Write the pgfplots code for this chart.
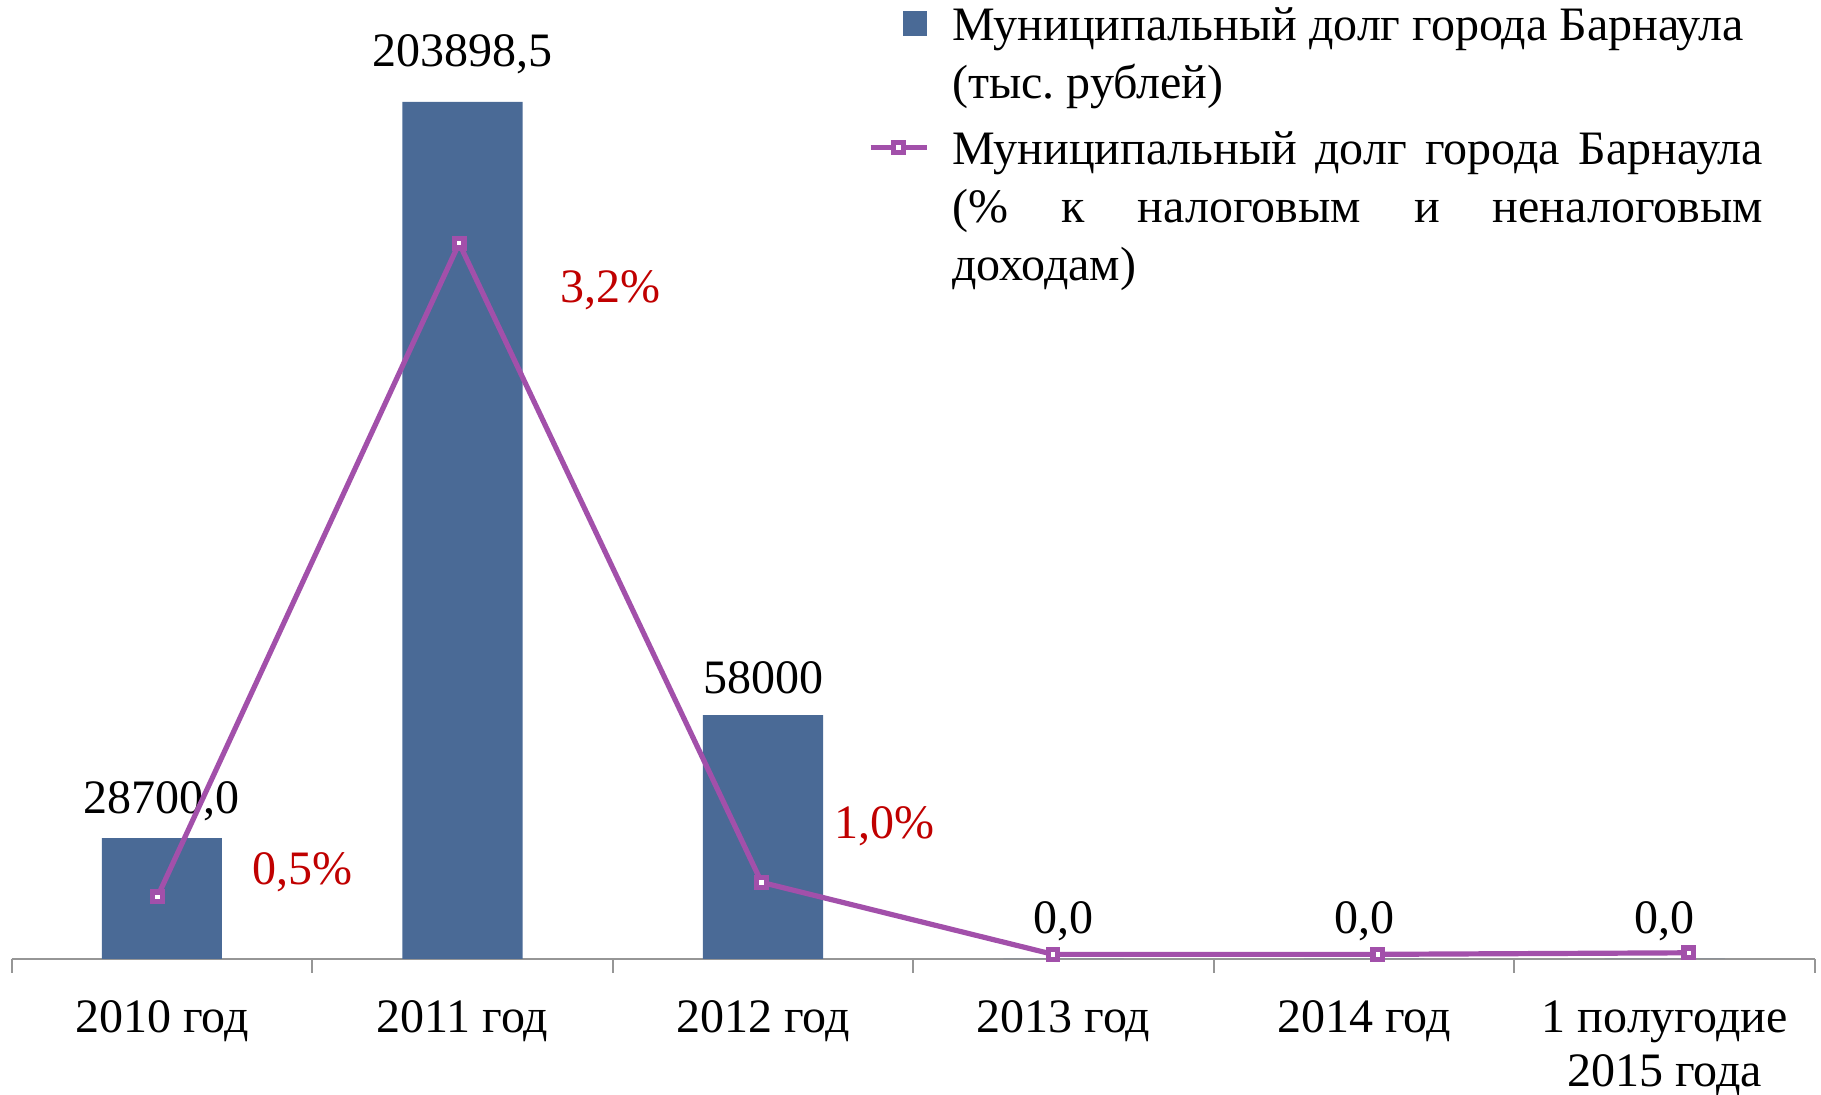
\documentclass[border=0pt]{standalone}
\usepackage{fontspec}
\setmainfont{Liberation Serif}
\usepackage{pgfplots}
\usepackage{pgfplotstable}
\pgfplotsset{compat=1.18}
\definecolor{barblue}{RGB}{74,106,150}
\definecolor{linepurple}{RGB}{162,80,170}
\definecolor{pctred}{RGB}{192,0,0}
\definecolor{axgray}{RGB}{150,150,150}

\pgfplotstableread{
x y label dy
0 28700 {28700,0} 6.25
1 203898.5 {203898,5} 8.75
2 58000 {58000} 5.5
3 0 {0,0} 6.4
4 0 {0,0} 6.4
5 0 {0,0} 6.4
}\bardata

\pgfplotstableread{
x y
-0.015 0.277
0.989 3.2
1.995 0.342
2.965 0.020
4.045 0.020
5.080 0.027
}\linedata

\pgfplotstableread{
x y label dx dy
-0.015 0.277 {0,5\%} 36.2 3.2
0.989 3.2 {3,2\%} 37.9 -14.9
1.995 0.342 {1,0\%} 30.8 10.95
}\pctdata

\newcommand{\W}{202.75pt}
\frenchspacing

\begin{document}
\begin{tikzpicture}
\begin{axis}[
  name=ax,
  scale only axis,
  width=450.85pt, height=239.7pt,
  xmin=-0.5, xmax=5.5,
  ymin=0, ymax=228170,
  clip=false,
  axis x line*=bottom,
  axis y line=none,
  x axis line style={-, draw=axgray, line width=0.6pt},
  xtick={0,1,2,3,4,5},
  xticklabels={2010 год,2011 год,2012 год,2013 год,2014 год,{1 полугодие\\2015 года}},
  minor xtick={-0.5,0.5,1.5,2.5,3.5,4.5,5.5},
  major tick length=0pt,
  minor tick length=3.5pt,
  tick align=outside,
  minor tick style={draw=axgray, line width=0.5pt},
  xticklabel style={anchor=north, yshift=-10.25pt, inner sep=0pt, align=center, font=\fontsize{12}{13.6}\selectfont},
  ytick=\empty,
]
\addplot[ybar, bar width=0.4, fill=barblue, draw=none,
  nodes near coords, point meta=explicit symbolic,
  visualization depends on={\thisrow{dy} \as \dy},
  every node near coord/.append style={anchor=base, yshift=\dy pt, inner sep=0pt, text=black, font=\fontsize{12}{14}\selectfont}]
  table[x=x, y=y, meta=label]{\bardata};
\end{axis}
\begin{axis}[
  scale only axis,
  width=450.85pt, height=239.7pt,
  xmin=-0.5, xmax=5.5,
  ymin=0, ymax=4.288,
  clip=false,
  hide axis,
  legend style={at={(0.4744,0.993)}, anchor=north west, draw=none, fill=none, inner sep=0pt,
    font=\fontsize{12}{14.5}\selectfont, column sep=5.75pt, row sep=21.2pt,
    cells={anchor=base west}, nodes={inner sep=0pt}},
]
\addlegendimage{legend image code/.code={\fill[barblue] (8.2pt,1.35pt) rectangle (14pt,7.15pt);}}
\addlegendentry{\parbox[t]{\W}{\frenchspacing\raggedright Муниципальный долг города Барнаула\\(тыс. рублей)}}
\addplot[color=linepurple, line width=1.3pt, mark=square*, mark size=1.2pt,
  mark options={fill=white, draw=linepurple, line width=1.3pt},
  legend image code/.code={
    \draw[linepurple, line width=1.3pt] (0pt,4.1pt) -- (14pt,4.1pt);
    \draw[linepurple, fill=white, line width=1.3pt] (5.8pt,2.9pt) rectangle (8.2pt,5.3pt);
  }]
  table[x=x, y=y]{\linedata};
\addlegendentry{\parbox[t]{\W}{\makebox[\W][s]{Муниципальный долг города Барнаула}\\\makebox[\W][s]{(\% к налоговым и неналоговым}\\доходам)}}
\addplot[draw=none, forget plot,
  nodes near coords, point meta=explicit symbolic,
  visualization depends on={\thisrow{dx} \as \dx},
  visualization depends on={\thisrow{dy} \as \dy},
  every node near coord/.append style={anchor=base, xshift=\dx pt, yshift=\dy pt, inner sep=0pt, text=pctred, font=\fontsize{12}{14}\selectfont}]
  table[x=x, y=y, meta=label]{\pctdata};
\end{axis}
\pgfresetboundingbox
\path[use as bounding box] ([shift={(-2.9pt,-33.8pt)}]ax.south west) rectangle ([shift={(1.5pt,0pt)}]ax.north east);
\end{tikzpicture}
\end{document}
